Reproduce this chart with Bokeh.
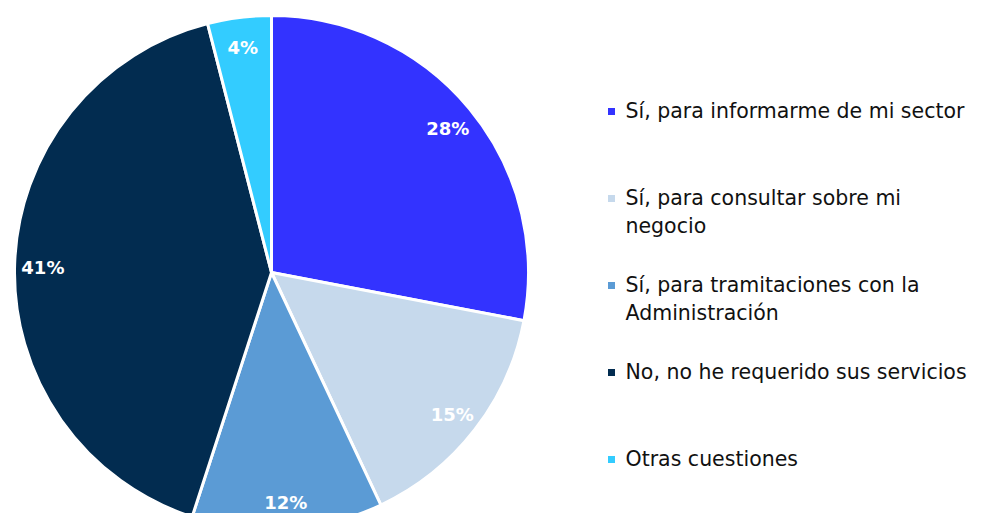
import numpy as np
from bokeh.plotting import figure
from bokeh.models import Range1d, ColumnDataSource
from bokeh.core.properties import value
from bokeh.embed import file_html
from bokeh.resources import INLINE

categories = [
    "Sí, para informarme de mi sector",
    "Sí, para consultar sobre mi\nnegocio",
    "Sí, para tramitaciones con la\nAdministración",
    "No, no he requerido sus servicios",
    "Otras cuestiones",
]
shares = [28, 15, 12, 41, 4]
pct_labels = ["28%", "15%", "12%", "41%", "4%"]
colors = ["#3333FF", "#C6D9EC", "#5B9BD5", "#022C50", "#33CCFF"]

W, H = 970, 513
p = figure(width=W, height=H, output_backend="svg", toolbar_location=None,
           x_range=Range1d(0, W), y_range=Range1d(-H, 0),
           min_border=0)
p.axis.visible = False
p.grid.visible = False
p.outline_line_color = None
p.background_fill_color = "white"

cx, cy, R = 271, -272, 257
vals = np.array(shares, dtype=float)
frac = vals / vals.sum()
cum = np.concatenate([[0], np.cumsum(frac)])
start = np.pi / 2 - cum[1:] * 2 * np.pi
end = np.pi / 2 - cum[:-1] * 2 * np.pi
mid = (start + end) / 2

src = ColumnDataSource(dict(start=start, end=end, color=colors))
p.wedge(x=cx, y=cy, radius=R, start_angle="start", end_angle="end",
        fill_color="color", line_color="white", line_width=3, source=src)

rl = 0.89 * R
lsrc = ColumnDataSource(dict(x=cx + rl * np.cos(mid), y=cy + rl * np.sin(mid) - 2, t=pct_labels))
p.text(x="x", y="y", text="t", source=lsrc, text_color="white",
       text_font=value("DejaVu Sans"), text_font_style="bold",
       text_font_size="18px", text_align="center", text_baseline="middle")

idx = np.arange(len(categories))
ly = -(111 + 87 * idx)
msrc = ColumnDataSource(dict(x=[611] * len(categories), y=ly, color=colors))
p.scatter(x="x", y="y", marker="square", size=7, fill_color="color",
          line_color=None, source=msrc)
tsrc = ColumnDataSource(dict(x=[625] * len(categories), y=ly + 13, t=categories))
p.text(x="x", y="y", text="t", source=tsrc, text_color="#111111",
       text_font=value("DejaVu Sans"), text_font_size="20.5px",
       text_align="left", text_baseline="top", text_line_height=1.2)

open("out.html", "w").write(file_html(p, INLINE))
